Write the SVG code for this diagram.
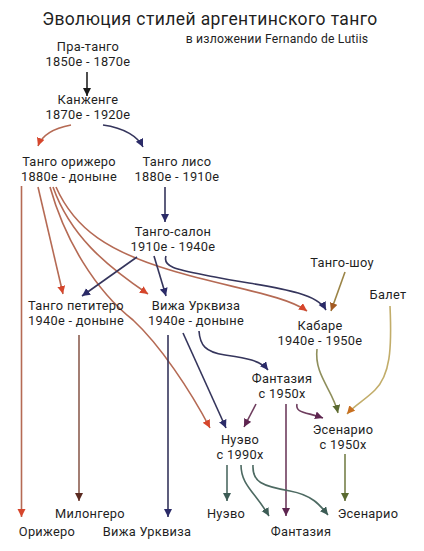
<svg xmlns="http://www.w3.org/2000/svg" width="424" height="551" viewBox="0 0 424 551">
<style>
text{font-family:Roboto,"Liberation Sans",sans-serif;fill:#1f1f1f;text-anchor:middle;font-size:12.8px;letter-spacing:0.3px}
.title{font-size:17.5px;letter-spacing:0.4px}
.sub{font-size:12.2px;letter-spacing:0.2px}
.c{fill:none;stroke-width:1.6}
.red{stroke:#b56a54;marker-end:url(#mRed)}
.navy{stroke:#35355c;marker-end:url(#mNavy)}
.blk{stroke:#222;marker-end:url(#mBlk)}
.mil{stroke:#8c5e50;marker-end:url(#mBrn)}
.teal{stroke:#4d6a62;marker-end:url(#mTeal)}
.pur{stroke:#6e3d5e;marker-end:url(#mPur)}
.olv{stroke:#76804a;marker-end:url(#mOlv)}
.kab{stroke:#8f8f5c;marker-end:url(#mOlv)}
.bal{stroke:#c2ad6a;marker-end:url(#mOrg)}
.shw{stroke:#9b8446;marker-end:url(#mShw)}
</style>
<defs>
<marker id="mRed" markerUnits="userSpaceOnUse" markerWidth="9" markerHeight="9" refX="8" refY="4" orient="auto"><path d="M0,0 L8,4 L0,8 z" fill="#d6462c"/></marker>
<marker id="mNavy" markerUnits="userSpaceOnUse" markerWidth="9" markerHeight="9" refX="8" refY="4" orient="auto"><path d="M0,0 L8,4 L0,8 z" fill="#2b2b68"/></marker>
<marker id="mBlk" markerUnits="userSpaceOnUse" markerWidth="9" markerHeight="9" refX="8" refY="4" orient="auto"><path d="M0,0 L8,4 L0,8 z" fill="#1a1a1a"/></marker>
<marker id="mBrn" markerUnits="userSpaceOnUse" markerWidth="9" markerHeight="9" refX="8" refY="4" orient="auto"><path d="M0,0 L8,4 L0,8 z" fill="#5a2a20"/></marker>
<marker id="mTeal" markerUnits="userSpaceOnUse" markerWidth="9" markerHeight="9" refX="8" refY="4" orient="auto"><path d="M0,0 L8,4 L0,8 z" fill="#3d5c55"/></marker>
<marker id="mPur" markerUnits="userSpaceOnUse" markerWidth="9" markerHeight="9" refX="8" refY="4" orient="auto"><path d="M0,0 L8,4 L0,8 z" fill="#5e2550"/></marker>
<marker id="mOlv" markerUnits="userSpaceOnUse" markerWidth="9" markerHeight="9" refX="8" refY="4" orient="auto"><path d="M0,0 L8,4 L0,8 z" fill="#5a6a30"/></marker>
<marker id="mOrg" markerUnits="userSpaceOnUse" markerWidth="9" markerHeight="9" refX="8" refY="4" orient="auto"><path d="M0,0 L8,4 L0,8 z" fill="#c87020"/></marker>
<marker id="mShw" markerUnits="userSpaceOnUse" markerWidth="9" markerHeight="9" refX="8" refY="4" orient="auto"><path d="M0,0 L8,4 L0,8 z" fill="#a35a22"/></marker>
</defs>
<rect width="424" height="551" fill="#ffffff"/>
<text class="title" x="210" y="25">Эволюция стилей аргентинского танго</text>
<text class="sub" x="277" y="43">в изложении Fernando de Lutiis</text>

<g id="connectors">
<path class="c blk" d="M87,72 L87,96"/>
<path class="c red" d="M71,125 C55,128 42,135 38,146"/>
<path class="c navy" d="M103,125 C125,128 138,137 143,147"/>
<path class="c navy" d="M165,187 L165,222"/>
<path class="c red" d="M21.5,186 L21.5,517"/>
<path class="c red" d="M38,187 L63,294"/>
<path class="c red" d="M50,187 C65,240 95,290 133,320 C160,345 190,390 210,428"/>
<path class="c red" d="M53,187 C70,235 105,265 148,294"/>
<path class="c red" d="M56,187 C75,230 110,252 170,270 C230,288 285,295 307,311"/>
<path class="c navy" d="M137,257 L82,296"/>
<path class="c navy" d="M154,256 L166,296"/>
<path class="c navy" d="M166,256 C162,268 180,270 215,277 C265,287 315,290 326,310"/>
<path class="c shw" d="M345,272 L331,311"/>
<path class="c mil" d="M79,335 L79,501"/>
<path class="c navy" d="M168,335 L168,517"/>
<path class="c navy" d="M183,333 L226,428"/>
<path class="c navy" d="M199,331 C200,345 205,352 225,355 C245,358 260,360 268,370"/>
<path class="c kab" d="M317,349 C314,375 333,390 338,413"/>
<path class="c bal" d="M390,306 C392,350 390,375 375,390 C365,400 355,405 347,414"/>
<path class="c pur" d="M256,404 L244,427"/>
<path class="c pur" d="M286,404 L286,516"/>
<path class="c pur" d="M297,404 C295,413 306,412 323,418"/>
<path class="c olv" d="M345,454 L345,501"/>
<path class="c teal" d="M227,465 L227,501"/>
<path class="c teal" d="M241,465 C241,485 255,492 269,516"/>
<path class="c teal" d="M253,465 C252,482 262,486 290,491 C312,495 320,505 328,515"/>
</g>

<g id="pratango"><text x="88" y="51">Пра-танго<tspan x="88" dy="15">1850е - 1870е</tspan></text></g>
<g id="kanzhenge"><text x="88" y="104">Канженге<tspan x="88" dy="15">1870е - 1920е</tspan></text></g>
<g id="orillero"><text x="69" y="165.5">Танго орижеро<tspan x="69" dy="15">1880е - доныне</tspan></text></g>
<g id="liso"><text x="177" y="165.5">Танго лисо<tspan x="177" dy="15">1880е - 1910е</tspan></text></g>
<g id="salon"><text x="173" y="236">Танго-салон<tspan x="173" dy="15">1910е - 1940е</tspan></text></g>
<g id="show"><text x="342" y="267">Танго-шоу</text></g>
<g id="balet"><text x="388" y="299">Балет</text></g>
<g id="petitero"><text x="76" y="310">Танго петитеро<tspan x="76" dy="15">1940е - доныне</tspan></text></g>
<g id="villaurquiza"><text x="196" y="310">Вижа Урквиза<tspan x="196" dy="15">1940е - доныне</tspan></text></g>
<g id="kabare"><text x="320" y="329.5">Кабаре<tspan x="320" dy="15">1940е - 1950е</tspan></text></g>
<g id="fantasia"><text x="282" y="383">Фантазия<tspan x="282" dy="15">с 1950х</tspan></text></g>
<g id="nuevo"><text x="240" y="444">Нуэво<tspan x="240" dy="15">с 1990х</tspan></text></g>
<g id="escenario"><text x="343" y="434">Эсенарио<tspan x="343" dy="15">с 1950х</tspan></text></g>
<g id="out-milonguero"><text x="90" y="518">Милонгеро</text></g>
<g id="out-nuevo"><text x="226" y="518">Нуэво</text></g>
<g id="out-escenario"><text x="368" y="518">Эсенарио</text></g>
<g id="out-orillero"><text x="47" y="536">Орижеро</text></g>
<g id="out-villaurquiza"><text x="147" y="536">Вижа Урквиза</text></g>
<g id="out-fantasia"><text x="301" y="536">Фантазия</text></g>
</svg>
